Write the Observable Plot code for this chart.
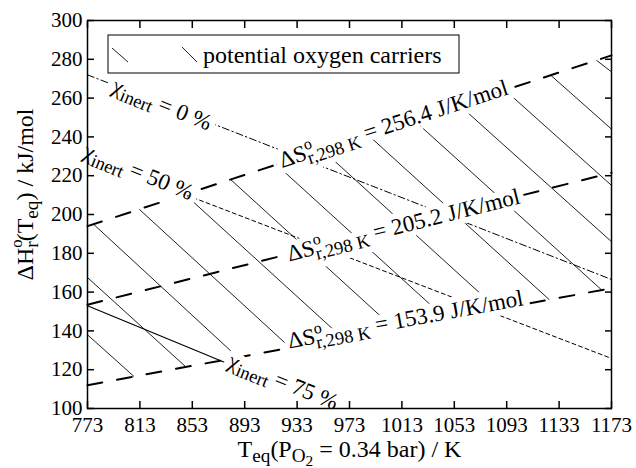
<!DOCTYPE html>
<html>
<head>
<meta charset="utf-8">
<script src="https://cdn.jsdelivr.net/npm/d3@7"></script>
<script src="https://cdn.jsdelivr.net/npm/@observablehq/plot@0.6"></script>
<style>
  body { margin: 0; background: #fff; }
  svg text { white-space: pre; }
</style>
</head>
<body>
<div id="chart"></div>
<script>
// ---- axes ----
const xTicks = [773, 813, 853, 893, 933, 973, 1013, 1053, 1093, 1133, 1173];
const yTicks = [100, 120, 140, 160, 180, 200, 220, 240, 260, 280, 300];
const xLabel = "T_{eq}(P_{O_{2}} = 0.34 bar) / K";
const yLabel = "ΔH^{o}_{r}(T_{eq}) / kJ/mol";

// ---- iso-entropy boundary lines (dashed) ----
const entropyNames = ["256.4", "205.2", "153.9"];
const entropyT = [773, 1173];
const entropyH256 = [194, 282];
const entropyH205 = [153.5, 221.5];
const entropyH154 = [112, 162];

// ---- hatch segments (potential oxygen carriers) ----
const hatchT1 = [773, 773, 777.6, 812.5, 847.4, 882.3, 917.2, 952.1, 987, 1021.9, 1056.8, 1091.7, 1126.6, 1161.5];
const hatchH1 = [138, 167.5, 195, 202.7, 210.4, 218, 225.7, 233.4, 241.1, 248.8, 256.4, 264.1, 271.8, 279.5];
const hatchT2 = [808.5, 848, 887.5, 927.5, 967.5, 1007, 1046.5, 1086, 1125.5, 1165.5, 1173, 1173, 1173, 1173];
const hatchH2 = [116.5, 121.5, 126.5, 131.5, 136.5, 141.3, 146.3, 151.2, 156.1, 161.1, 186, 215, 244, 273.5];

// ---- inert fraction lines ----
const inert0T = [773, 1173];
const inert0H = [272, 166.5];
const inert50T = [848.6, 1173];
const inert50H = [210, 125.8];
const inert75T = [773, 877];
const inert75H = [153, 124];

// ---- labels ----
const entropyLabels = [
  "ΔS^{o}_{r,298 K} = 256.4 J/K/mol",
  "ΔS^{o}_{r,298 K} = 205.2 J/K/mol",
  "ΔS^{o}_{r,298 K} = 153.9 J/K/mol"
];
const entropyLabelT = [921.5, 927, 927];
const entropyLabelH = [224, 175.8, 130.9];
const entropyLabelAngle = [-18, -14.1, -10.5];

const inertLabels = ["χ_{inert} = 0 %", "χ_{inert} = 50 %", "χ_{inert} = 75 %"];
const inertLabelT = [830, 812, 922.6];
const inertLabelH = [256.8, 222, 113.9];
const inertLabelAngle = [22, 22, 22];

const legendLabel = "potential oxygen carriers";

// ---- build tables ----
const entropyRows = [];
[entropyH256, entropyH205, entropyH154].forEach((hs, k) =>
  entropyT.forEach((t, i) => entropyRows.push({T: t, H: hs[i], s: entropyNames[k]})));

const FONT = "'Liberation Serif', 'Times New Roman', serif";

const entropyTextOpts = {
  x: entropyLabelT, y: entropyLabelH, text: d => d, rotate: entropyLabelAngle,
  textAnchor: "start", lineAnchor: "bottom", fontSize: 23
};
const inertTextOpts = {
  x: inertLabelT, y: inertLabelH, text: d => d, rotate: inertLabelAngle,
  textAnchor: "middle", lineAnchor: "middle", fontSize: 23
};
const halo = {fill: "white", stroke: "white", strokeWidth: 12, strokeLinejoin: "round"};

const chart = Plot.plot({
  width: 636,
  height: 468,
  marginLeft: 87,
  marginRight: 25,
  marginTop: 20,
  marginBottom: 60,
  x: {domain: [773, 1173]},
  y: {domain: [100, 300]},
  style: {fontFamily: FONT, fontSize: "21px", background: "white", color: "black", overflow: "visible"},
  marks: [
    Plot.link(hatchT1, {x1: hatchT1, y1: hatchH1, x2: hatchT2, y2: hatchH2, stroke: "#222", strokeWidth: 1}),
    Plot.line(entropyRows, {x: "T", y: "H", z: "s", stroke: "black", strokeWidth: 2, strokeDasharray: "15,15"}),
    Plot.line(inert0T, {x: inert0T, y: inert0H, stroke: "black", strokeWidth: 1, strokeDasharray: "7,3,1.5,3"}),
    Plot.line(inert50T, {x: inert50T, y: inert50H, stroke: "black", strokeWidth: 1, strokeDasharray: "4,3"}),
    Plot.line(inert75T, {x: inert75T, y: inert75H, stroke: "black", strokeWidth: 1.2}),
    // white masks behind labels
    Plot.text(entropyLabels, {...entropyTextOpts, ...halo}),
    Plot.text(inertLabels, {...inertTextOpts, ...halo}),
    // labels
    Plot.text(entropyLabels, {...entropyTextOpts, fill: "black"}),
    Plot.text(inertLabels, {...inertTextOpts, fill: "black"}),
    Plot.frame({stroke: "black", strokeWidth: 1.5}),
    Plot.axisX({ticks: xTicks, tickSize: -7, tickPadding: 16, tickFormat: d => String(d), label: null, strokeWidth: 1.5}),
    Plot.axisX({anchor: "top", ticks: xTicks, tickSize: -7, tickFormat: () => "", label: null, strokeWidth: 1.5}),
    Plot.axisY({ticks: yTicks, tickSize: -7, tickPadding: 12, tickFormat: d => String(d), label: null, strokeWidth: 1.5}),
    Plot.axisY({anchor: "right", ticks: yTicks, tickSize: -7, tickFormat: () => "", label: null, strokeWidth: 1.5}),
    Plot.text([xLabel], {frameAnchor: "bottom", text: d => d, dy: 48, textAnchor: "middle", lineAnchor: "bottom", fontSize: 24}),
    Plot.text([yLabel], {frameAnchor: "left", text: d => d, dx: -55, dy: -20, rotate: -90, textAnchor: "middle", lineAnchor: "bottom", fontSize: 24})
  ]
});

document.getElementById("chart").appendChild(chart);

// ---- legend (inside plot, top-left) ----
const svg = d3.select(chart);
const lg = svg.append("g").attr("class", "legend");
lg.append("rect").attr("x", 108).attr("y", 35).attr("width", 351).attr("height", 38)
  .attr("fill", "white").attr("stroke", "black").attr("stroke-width", 1);
lg.append("line").attr("x1", 112).attr("y1", 48).attr("x2", 128).attr("y2", 62).attr("stroke", "#222").attr("stroke-width", 1);
lg.append("line").attr("x1", 182).attr("y1", 47).attr("x2", 197).attr("y2", 62).attr("stroke", "#222").attr("stroke-width", 1);
lg.append("text").attr("x", 203).attr("y", 63).attr("font-size", 24).attr("font-family", FONT)
  .attr("text-anchor", "start").attr("fill", "black").text(legendLabel);

// ---- rich text: ^{sup} and _{sub} ----
function parseRich(s, off, size, out) {
  let i = 0, buf = "", lastSup = null;
  const flush = () => { if (buf) { out.push({t: buf, off, size}); buf = ""; } };
  while (i < s.length) {
    const c = s[i];
    if ((c === "^" || c === "_") && i + 1 < s.length) {
      flush();
      let g, j = i + 1;
      if (s[j] === "{") {
        let depth = 1, k = j + 1;
        while (k < s.length && depth) { if (s[k] === "{") depth++; else if (s[k] === "}") depth--; k++; }
        g = s.slice(j + 1, k - 1); i = k;
      } else { g = s[j]; i = j + 1; }
      const start = out.length;
      if (c === "^") {
        parseRich(g, off - size * 0.42, size * 0.7, out);
        lastSup = [start, out.length];
      } else {
        parseRich(g, off + size * 0.22, size * 0.8, out);
        if (lastSup && lastSup[1] === start && out[start]) out[start].back = lastSup;
        lastSup = null;
      }
    } else { buf += c; i++; lastSup = null; }
  }
  flush();
}
function applyRich(el) {
  const s = el.textContent;
  if (!/[\^_]/.test(s)) return;
  const fs = parseFloat(getComputedStyle(el).fontSize) || 21;
  const segs = [];
  parseRich(s, 0, fs, segs);
  while (el.firstChild) el.removeChild(el.firstChild);
  let cur = 0;
  const spans = [];
  segs.forEach(g => {
    const ts = document.createElementNS("http://www.w3.org/2000/svg", "tspan");
    ts.textContent = g.t;
    ts.setAttribute("font-size", g.size);
    if (g.off !== cur) ts.setAttribute("dy", g.off - cur);
    cur = g.off;
    el.appendChild(ts);
    spans.push(ts);
    if (g.back) {
      let w = 0;
      for (let k = g.back[0]; k < g.back[1]; k++) w += spans[k].getComputedTextLength();
      ts.setAttribute("dx", -w);
    }
  });
}
chart.querySelectorAll("text").forEach(applyRich);
</script>
</body>
</html>
